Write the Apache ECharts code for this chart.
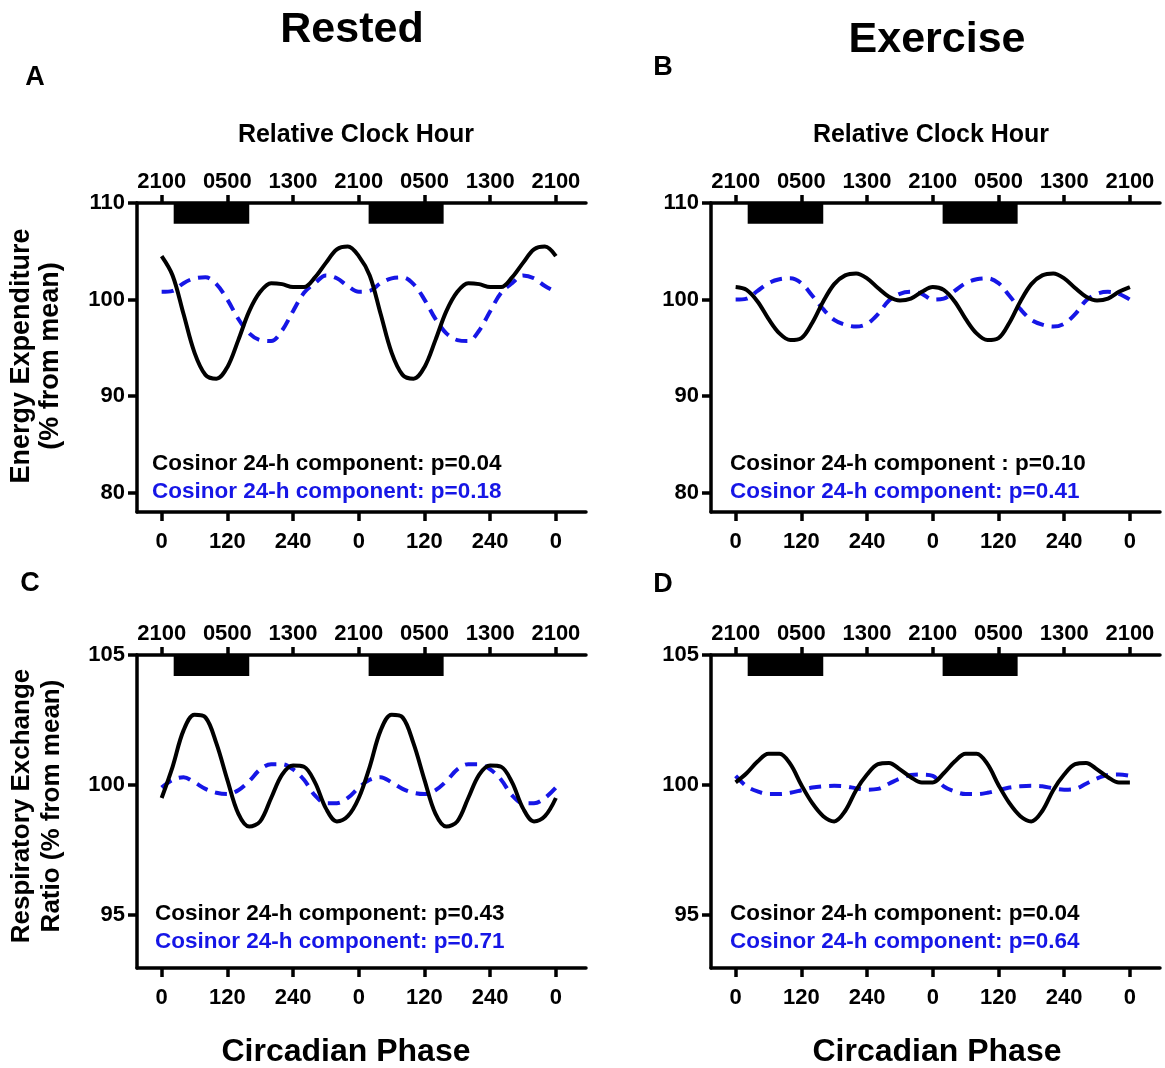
<!DOCTYPE html>
<html>
<head>
<meta charset="utf-8">
<script src="https://cdn.jsdelivr.net/npm/echarts@6/dist/echarts.min.js"></script>
<style>
html,body{margin:0;padding:0;background:#fff;}
#chart{width:1165px;height:1068px;}
</style>
</head>
<body>
<div id="chart"></div>
<script>
// ---------- DATA ----------
// circadian phase (degrees) of one cycle; the figure is double-plotted (0-720)
const phaseCycle = [0,20,40,60,80,100,120,140,160,180,200,220,240,260,280,300,320,340,360];

// Energy expenditure (% from mean)
const eeRestedBlack = [104.5,102.5,98.5,94.5,92.2,91.8,93.0,95.8,98.8,100.8,101.7,101.6,101.3,101.3,102.3,103.8,105.2,105.5,104.5];
const eeRestedBlue  = [100.8,100.9,101.7,102.2,102.3,101.6,100.0,98.0,96.5,95.8,95.7,96.8,98.8,100.7,101.7,102.5,102.2,101.4,100.8];
const eeExBlack     = [101.3,101.0,99.8,98.0,96.5,95.8,96.0,97.6,99.8,101.6,102.5,102.7,102.2,101.2,100.3,99.9,100.1,100.8,101.3];
const eeExBlue      = [100.0,100.1,100.9,101.7,102.1,102.2,101.7,100.4,99.0,97.9,97.4,97.2,97.5,98.5,99.9,100.6,100.8,100.6,100.0];

// Respiratory exchange ratio (% from mean)
const rerRestedBlack = [99.5,100.7,102.1,102.7,102.6,101.6,100.2,98.9,98.4,98.6,99.5,100.4,100.75,100.7,100.1,99.1,98.6,98.8,99.5];
const rerRestedBlue  = [99.9,100.2,100.3,100.1,99.85,99.7,99.65,99.8,100.15,100.6,100.8,100.8,100.6,100.2,99.6,99.3,99.3,99.5,99.9];
const rerExBlack     = [100.1,100.45,100.9,101.2,101.2,100.8,100.0,99.3,98.8,98.6,99.0,99.8,100.4,100.8,100.85,100.6,100.3,100.1,100.1];
const rerExBlue      = [100.35,99.95,99.75,99.65,99.65,99.7,99.8,99.9,99.95,99.97,99.95,99.87,99.82,99.85,100.05,100.25,100.38,100.4,100.35];

// Axis ticks / labels
const phaseTicks  = [0,120,240,360,480,600,720];
const phaseLabels = ['0','120','240','0','120','240','0'];
const clockLabels = ['2100','0500','1300','2100','0500','1300','2100'];
const eeTicks  = [80,90,100,110];
const rerTicks = [95,100,105];

// Sleep episodes (phase degrees, double-plotted)
const sleepBars = [[22,160],[378,515]];

// P-values text
const pTexts = [
  ['Cosinor 24-h component: p=0.04','Cosinor 24-h component: p=0.18'],
  ['Cosinor 24-h component : p=0.10','Cosinor 24-h component: p=0.41'],
  ['Cosinor 24-h component: p=0.43','Cosinor 24-h component: p=0.71'],
  ['Cosinor 24-h component: p=0.04','Cosinor 24-h component: p=0.64']
];

// ---------- BUILD ----------
const FONT = '"Liberation Sans", Arial, Helvetica, sans-serif';
const BLUE = '#1616e6';

function doublePlot(vals){
  const out = [];
  for (let c = 0; c < 2; c++){
    for (let i = (c === 0 ? 0 : 1); i < phaseCycle.length; i++){
      out.push([phaseCycle[i] + 360*c, vals[i]]);
    }
  }
  return out;
}

const grids = [
  {left:137, top:203, width:449, height:309},
  {left:711, top:203, width:449, height:309},
  {left:137, top:655, width:449, height:313},
  {left:711, top:655, width:449, height:313}
];
const yCfg = [
  {min:78, max:110, ticks:eeTicks, barBottom:107.85},
  {min:78, max:110, ticks:eeTicks, barBottom:107.85},
  {min:92.96, max:105, ticks:rerTicks, barBottom:104.19},
  {min:92.96, max:105, ticks:rerTicks, barBottom:104.19}
];
const seriesVals = [
  [eeRestedBlack, eeRestedBlue],
  [eeExBlack, eeExBlue],
  [rerRestedBlack, rerRestedBlue],
  [rerExBlack, rerExBlue]
];

const axisLine = {show:true, onZero:false, lineStyle:{color:'#000', width:3.5}};
const labelStyle = {color:'#000', fontFamily:FONT, fontWeight:'bold', fontSize:22};

const xAxes = [], yAxes = [], series = [];
grids.forEach((g, i) => {
  xAxes.push({
    type:'value', gridIndex:i, position:'bottom', min:-45, max:775,
    axisLine:axisLine, splitLine:{show:false},
    axisTick:{show:true, customValues:phaseTicks, length:9, lineStyle:{color:'#000', width:3.5}},
    axisLabel:Object.assign({customValues:phaseTicks, margin:19,
      formatter:v => phaseLabels[phaseTicks.indexOf(v)]}, labelStyle)
  });
  xAxes.push({
    type:'value', gridIndex:i, position:'top', min:-45, max:775,
    axisLine:axisLine, splitLine:{show:false},
    axisTick:{show:true, customValues:phaseTicks, length:8, lineStyle:{color:'#000', width:3.5}},
    axisLabel:Object.assign({customValues:phaseTicks, margin:10,
      formatter:v => clockLabels[phaseTicks.indexOf(v)]}, labelStyle)
  });
  yAxes.push({
    type:'value', gridIndex:i, min:yCfg[i].min, max:yCfg[i].max,
    axisLine:axisLine, splitLine:{show:false},
    axisTick:{show:true, customValues:yCfg[i].ticks, length:9, lineStyle:{color:'#000', width:3.5}},
    axisLabel:Object.assign({customValues:yCfg[i].ticks, margin:12}, labelStyle)
  });
  const [blackVals, blueVals] = seriesVals[i];
  series.push({
    type:'line', xAxisIndex:2*i, yAxisIndex:i, data:doublePlot(blueVals),
    showSymbol:false, smooth:0.35, silent:true,
    lineStyle:{color:BLUE, width:4, type:[12,8]}, z:3
  });
  series.push({
    type:'line', xAxisIndex:2*i, yAxisIndex:i, data:doublePlot(blackVals),
    showSymbol:false, smooth:0.35, silent:true,
    lineStyle:{color:'#000', width:4}, z:4,
    markArea:{silent:true, itemStyle:{color:'#000', opacity:1},
      data: sleepBars.map(b => [{xAxis:b[0], yAxis:yCfg[i].max}, {xAxis:b[1], yAxis:yCfg[i].barBottom}])}
  });
});

function txt(x, y, text, size, opts){
  return Object.assign({
    type:'text', x:x, y:y, silent:true,
    style:Object.assign({text:text, fill:'#000', font:'bold ' + size + 'px ' + FONT,
      textAlign:'center', textVerticalAlign:'middle'}, (opts && opts.style) || {})
  }, (opts && opts.el) || {});
}

const graphics = [
  txt(352, 30, 'Rested', 43),
  txt(937, 40, 'Exercise', 43),
  txt(35, 78, 'A', 27),
  txt(663, 68, 'B', 27),
  txt(30, 584, 'C', 27),
  txt(663, 585, 'D', 27),
  txt(356, 135, 'Relative Clock Hour', 25),
  txt(931, 135, 'Relative Clock Hour', 25),
  txt(346, 1052, 'Circadian Phase', 32),
  txt(937, 1052, 'Circadian Phase', 32),
  txt(22, 356, 'Energy Expenditure', 27, {el:{rotation:Math.PI/2}}),
  txt(51, 356, '(% from mean)', 27, {el:{rotation:Math.PI/2}}),
  txt(22, 806, 'Respiratory Exchange', 26, {el:{rotation:Math.PI/2}}),
  txt(52, 806, 'Ratio (% from mean)', 26, {el:{rotation:Math.PI/2}})
];
const annPos = [[152,464],[730,464],[155,914],[730,914]];
annPos.forEach((p, i) => {
  graphics.push(txt(p[0], p[1], pTexts[i][0], 22.5, {style:{textAlign:'left'}}));
  graphics.push(txt(p[0], p[1] + 28, pTexts[i][1], 22.5, {style:{textAlign:'left', fill:BLUE}}));
});

const chart = echarts.init(document.getElementById('chart'), null, {renderer:'canvas'});
chart.setOption({
  animation:false,
  backgroundColor:'#fff',
  grid:grids,
  xAxis:xAxes,
  yAxis:yAxes,
  series:series,
  graphic:graphics
});
</script>
</body>
</html>
